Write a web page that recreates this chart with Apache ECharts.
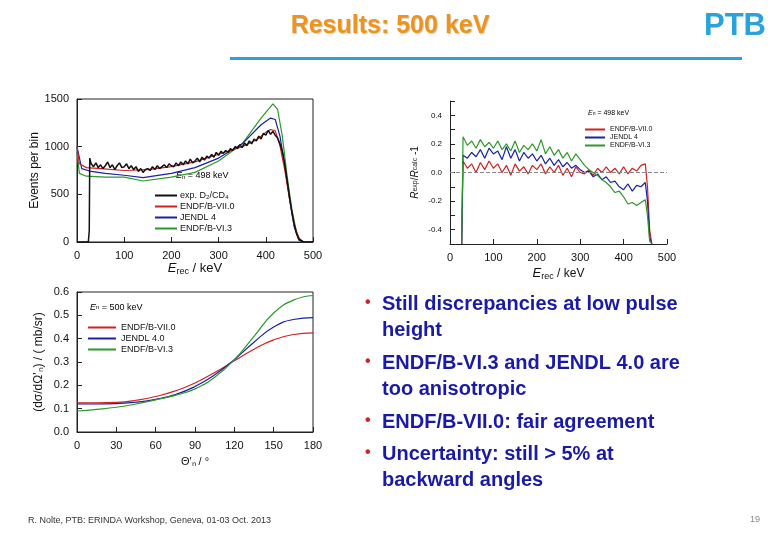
<html>
<head>
<meta charset="utf-8">
<script src="https://cdn.jsdelivr.net/npm/echarts@6/dist/echarts.min.js"></script>
<style>
  body { margin: 0; background: #fff; }
  #main { width: 780px; height: 540px; }
</style>
</head>
<body>
<div id="main"></div>
<script>
// ---- top-left: pulse height spectrum ----
var expX = [0, 24, 26, 27, 30, 35, 40, 45, 50, 55, 60, 65, 70, 75, 80, 85, 90, 95, 100, 105, 110, 115, 120, 125, 130, 135, 140, 145, 150, 155, 160, 165, 170, 175, 180, 185, 190, 195, 200, 205, 210, 215, 220, 225, 230, 235, 240, 245, 250, 255, 260, 265, 270, 275, 280, 285, 290, 295, 300, 305, 310, 315, 320, 325, 330, 335, 340, 345, 350, 355, 360, 365, 370, 375, 380, 385, 390, 395, 400, 405, 410, 415, 420, 425, 430, 435, 440, 445, 450, 455, 460, 465, 470, 480, 500];
var expY = [0, 0, 120, 880, 820, 790, 830, 780, 810, 770, 800, 840, 780, 810, 760, 800, 830, 780, 790, 820, 770, 800, 760, 790, 740, 770, 730, 760, 770, 750, 790, 760, 800, 770, 790, 810, 780, 820, 800, 790, 830, 800, 840, 810, 850, 820, 870, 830, 850, 880, 840, 890, 860, 900, 880, 920, 890, 940, 910, 950, 930, 960, 940, 980, 960, 1000, 980, 1020, 990, 1040, 1010, 1060, 1030, 1080, 1060, 1110, 1080, 1140, 1120, 1170, 1130, 1160, 1120, 1090, 1030, 950, 820, 650, 480, 320, 190, 90, 30, 0, 0];
var redX = [0, 5, 20, 50, 100, 150, 200, 250, 300, 350, 380, 400, 410, 420, 430, 440, 450, 460, 470, 480, 500];
var redY = [1000, 820, 780, 770, 750, 760, 790, 840, 920, 1000, 1070, 1150, 1180, 1165, 1010, 760, 460, 190, 40, 0, 0];
var bluX = [0, 10, 30, 60, 100, 140, 200, 250, 300, 350, 390, 410, 420, 430, 440, 450, 460, 470, 480, 500];
var bluY = [1000, 770, 740, 720, 700, 675, 720, 780, 880, 1030, 1230, 1300, 1285, 1110, 810, 460, 160, 20, 0, 0];
var grnX = [0, 5, 20, 60, 100, 140, 200, 250, 300, 350, 390, 415, 425, 435, 445, 455, 465, 475, 500];
var grnY = [950, 720, 690, 680, 680, 640, 680, 730, 850, 1030, 1300, 1450, 1390, 1110, 700, 350, 100, 0, 0];

// ---- top-right: ratio exp/calc - 1 ----
var ratX = [27, 30, 40, 50, 60, 70, 80, 90, 100, 110, 120, 130, 140, 150, 160, 170, 180, 190, 200, 210, 220, 230, 240, 250, 260, 270, 280, 290, 300, 310, 320, 330, 340, 350, 360, 370, 380, 390, 400, 410, 420, 430, 440, 450, 455, 460, 465];
var ratRed = [-0.5, 0.08, 0.03, 0.06, 0.0, 0.07, 0.02, 0.08, 0.03, 0.06, 0.0, 0.05, -0.02, 0.06, 0.01, 0.04, -0.01, 0.05, 0.02, 0.06, -0.01, 0.04, 0.0, 0.05, -0.02, 0.03, -0.03, 0.04, 0.0, -0.01, 0.02, -0.02, 0.03, 0.0, 0.04, 0.0, 0.03, -0.01, 0.04, -0.01, 0.03, 0.01, 0.05, 0.06, -0.1, -0.4, -0.5];
var ratBlu = [-0.5, 0.12, 0.1, 0.14, 0.11, 0.16, 0.1, 0.17, 0.13, 0.15, 0.09, 0.18, 0.1, 0.16, 0.08, 0.14, 0.1, 0.13, 0.08, 0.12, 0.06, 0.1, 0.05, 0.09, 0.04, 0.07, 0.03, 0.05, 0.02, 0.0, 0.01, -0.03, -0.01, -0.05, -0.03, -0.07, -0.06, -0.1, -0.12, -0.08, -0.13, -0.09, -0.1, -0.07, -0.2, -0.45, -0.5];
var ratGrn = [-0.5, 0.25, 0.19, 0.22, 0.17, 0.23, 0.18, 0.21, 0.17, 0.22, 0.16, 0.2, 0.15, 0.22, 0.14, 0.19, 0.16, 0.2, 0.15, 0.23, 0.13, 0.18, 0.12, 0.16, 0.1, 0.14, 0.08, 0.13, 0.09, 0.05, 0.02, 0.0, -0.02, -0.05, -0.07, -0.1, -0.14, -0.13, -0.17, -0.22, -0.21, -0.23, -0.21, -0.19, -0.3, -0.48, -0.5];

// ---- bottom-left: angular distribution ----
var angX = [0, 15, 30, 45, 60, 75, 90, 105, 120, 135, 150, 165, 180];
var angRed = [0.125, 0.125, 0.127, 0.136, 0.152, 0.176, 0.21, 0.255, 0.305, 0.355, 0.395, 0.418, 0.425];
var angBlu = [0.12, 0.12, 0.122, 0.128, 0.14, 0.16, 0.195, 0.245, 0.31, 0.385, 0.45, 0.482, 0.49];
var angGrn = [0.09, 0.097, 0.106, 0.12, 0.138, 0.157, 0.185, 0.235, 0.31, 0.41, 0.51, 0.565, 0.585];

var bullets = [
  ['Still discrepancies at low pulse', 'height'],
  ['ENDF/B-VI.3 and JENDL 4.0 are', 'too anisotropic'],
  ['ENDF/B-VII.0: fair agreement'],
  ['Uncertainty: still > 5% at', 'backward angles']
];

function zip(xs, ys) { return xs.map(function (x, i) { return [x, ys[i]]; }); }

var RED = '#d42020', BLUE = '#1a20a8', GREEN = '#2a9a2a';
var F = 'Liberation Sans, Arial, sans-serif';
var subRich = { sub: { fontSize: 9, verticalAlign: 'bottom', padding: [6, 0, 0, 0], fontFamily: F }, it: { fontStyle: 'italic', fontSize: 13, fontFamily: F } };

function lineS(name, data, color, xi, w) {
  return { name: name, type: 'line', data: data, xAxisIndex: xi, yAxisIndex: xi, showSymbol: false,
    lineStyle: { color: color, width: w || 1.2 }, itemStyle: { color: color }, animation: false };
}

var graphics = [
  { type: 'text', left: 'center', top: 14, style: { text: 'Results: 500 keV', font: 'bold 25px ' + F, fill: '#ef9418', textShadowColor: '#c8c8c8', textShadowOffsetX: 1, textShadowOffsetY: 1, textShadowBlur: 1 } },
  { type: 'text', left: 704, top: 11, style: { text: 'PTB', font: 'bold 31px ' + F, fill: '#2aa3dc' } },
  { type: 'rect', shape: { x: 230, y: 57, width: 512, height: 3 }, style: { fill: '#2aa3dc' } },
  { type: 'text', left: 28, top: 516, style: { text: 'R. Nolte, PTB: ERINDA Workshop, Geneva, 01-03 Oct. 2013', font: '9px ' + F, fill: '#333' } },
  { type: 'text', left: 750, top: 515, style: { text: '19', font: '9px ' + F, fill: '#888' } },
  { type: 'text', left: 176, top: 171, style: { text: '{it|E}{sub|n} = 498 keV', rich: { it: { fontStyle: 'italic', fontSize: 9, fontFamily: F }, sub: { fontSize: 6, verticalAlign: 'bottom', fontFamily: F } }, font: '9px ' + F } },
  { type: 'text', left: 588, top: 110, style: { text: '{it|E}{sub|n} = 498 keV', rich: { it: { fontStyle: 'italic', fontSize: 7, fontFamily: F }, sub: { fontSize: 5, fontFamily: F } }, font: '7px ' + F } },
  { type: 'text', left: 90, top: 303, style: { text: '{it|E}{sub|n} = 500 keV', rich: { it: { fontStyle: 'italic', fontSize: 9, fontFamily: F }, sub: { fontSize: 6, fontFamily: F } }, font: '9px ' + F } }
];
var ys = [305, 364, 423, 455];
bullets.forEach(function (b, i) {
  graphics.push({ type: 'text', left: 365, top: ys[i] - 10, style: { text: '•', font: 'bold 16px ' + F, fill: '#d42020' } });
  b.forEach(function (t, j) {
    graphics.push({ type: 'text', left: 382, top: ys[i] - 11 + j * 26, style: { text: t, font: 'bold 20px ' + F, fill: '#1a1aa8' } });
  });
});

var chart = echarts.init(document.getElementById('main'));
var axLab = { color: '#111', fontSize: 11, fontFamily: F };
var option = {
  backgroundColor: '#fff',
  animation: false,
  graphic: graphics,
  grid: [
    { left: 77, top: 99, width: 236, height: 143, show: true, borderColor: '#222', borderWidth: 1 },
    { left: 450, top: 101, width: 217, height: 143 },
    { left: 77, top: 292, width: 236, height: 140, show: true, borderColor: '#222', borderWidth: 1 }
  ],
  legend: [
    { orient: 'vertical', left: 150, top: 186, itemWidth: 22, itemHeight: 2, itemGap: 2, icon: 'rect',
      textStyle: { fontSize: 9, fontFamily: F, color: '#111', padding: [0, 0, 0, -2] },
      data: ['exp. D₂/CD₄', 'ENDF/B-VII.0', 'JENDL 4', 'ENDF/B-VI.3'] },
    { orient: 'vertical', left: 580, top: 121, itemWidth: 20, itemHeight: 2, itemGap: 1, icon: 'rect',
      textStyle: { fontSize: 7, fontFamily: F, color: '#111' },
      data: ['ENDF/B-VII.0 ', 'JENDL 4 ', 'ENDF/B-VI.3 '] },
    { orient: 'vertical', left: 83, top: 318, itemWidth: 28, itemHeight: 2, itemGap: 2, icon: 'rect',
      textStyle: { fontSize: 9, fontFamily: F, color: '#111' },
      data: ['ENDF/B-VII.0', 'JENDL 4.0', 'ENDF/B-VI.3'] }
  ],
  xAxis: [
    { gridIndex: 0, type: 'value', min: 0, max: 500, interval: 100, splitLine: { show: false },
      axisLine: { lineStyle: { color: '#222' } }, axisTick: { inside: true, lineStyle: { color: '#222' } }, axisLabel: axLab,
      name: '{it|E}{sub|rec} / keV', nameLocation: 'middle', nameGap: 17, nameTextStyle: { fontSize: 13, fontFamily: F, color: '#111', rich: subRich } },
    { gridIndex: 1, type: 'value', min: 0, max: 500, interval: 100, splitLine: { show: false },
      axisLine: { onZero: false, lineStyle: { color: '#222' } }, axisTick: { inside: true, lineStyle: { color: '#222' } }, axisLabel: axLab,
      name: '{it|E}{sub|rec} / keV', nameLocation: 'middle', nameGap: 22, nameTextStyle: { fontSize: 12, fontFamily: F, color: '#111', rich: subRich } },
    { gridIndex: 2, type: 'value', min: 0, max: 180, interval: 30, splitLine: { show: false },
      axisLine: { lineStyle: { color: '#222' } }, axisTick: { inside: true, lineStyle: { color: '#222' } }, axisLabel: axLab,
      name: "Θ'ₙ / °", nameLocation: 'middle', nameGap: 24, nameTextStyle: { fontSize: 11, fontFamily: F, color: '#111' } }
  ],
  yAxis: [
    { gridIndex: 0, type: 'value', min: 0, max: 1500, interval: 500, splitLine: { show: false },
      axisLine: { show: true, lineStyle: { color: '#222' } }, axisTick: { show: true, inside: true, lineStyle: { color: '#222' } },
      axisLabel: Object.assign({ formatter: function (v) { return String(v); } }, axLab),
      name: 'Events per bin', nameLocation: 'middle', nameGap: 32, nameTextStyle: { fontSize: 12, fontFamily: F, color: '#111' } },
    { gridIndex: 1, type: 'value', min: -0.5, max: 0.5, interval: 0.1, splitLine: { show: false },
      axisLine: { show: true, lineStyle: { color: '#222' } }, axisTick: { show: true, inside: true, lineStyle: { color: '#222' } },
      axisLabel: { fontSize: 8, fontFamily: F, color: '#111', formatter: function (v) { var r = Math.round(v * 10); return (r % 2 === 0 && Math.abs(r) < 5) ? v.toFixed(1) : ''; } },
      name: '{it|R}{sub|exp}/{it|R}{sub|calc} -1', nameLocation: 'middle', nameGap: 30, nameTextStyle: { fontSize: 10, fontFamily: F, color: '#111', rich: { it: { fontStyle: 'italic', fontSize: 10, fontFamily: F }, sub: { fontSize: 7, fontFamily: F } } } },
    { gridIndex: 2, type: 'value', min: 0, max: 0.6, interval: 0.1, splitLine: { show: false },
      axisLine: { show: true, lineStyle: { color: '#222' } }, axisTick: { show: true, inside: true, lineStyle: { color: '#222' } },
      axisLabel: { color: '#111', fontSize: 11, fontFamily: F, formatter: function (v) { return v.toFixed(1); } },
      name: "(dσ/dΩ'ₙ) / ( mb/sr)", nameLocation: 'middle', nameGap: 32, nameTextStyle: { fontSize: 12, fontFamily: F, color: '#111' } }
  ],
  series: [
    lineS('ENDF/B-VI.3', zip(grnX, grnY), GREEN, 0),
    lineS('JENDL 4', zip(bluX, bluY), BLUE, 0),
    lineS('ENDF/B-VII.0', zip(redX, redY), RED, 0),
    lineS('exp. D₂/CD₄', zip(expX, expY), '#111', 0, 1.5),
    Object.assign(lineS('ENDF/B-VII.0 ', zip(ratX, ratRed), RED, 1), {
      markLine: { silent: true, symbol: 'none', label: { show: false }, lineStyle: { color: '#888', type: 'dashed', width: 1 }, data: [{ yAxis: 0 }] } }),
    lineS('JENDL 4 ', zip(ratX, ratBlu), BLUE, 1),
    lineS('ENDF/B-VI.3 ', zip(ratX, ratGrn), GREEN, 1),
    Object.assign(lineS('ENDF/B-VII.0', zip(angX, angRed), RED, 2), { smooth: true }),
    Object.assign(lineS('JENDL 4.0', zip(angX, angBlu), BLUE, 2), { smooth: true }),
    Object.assign(lineS('ENDF/B-VI.3', zip(angX, angGrn), GREEN, 2), { smooth: true })
  ]
};
chart.setOption(option);
</script>
</body>
</html>
